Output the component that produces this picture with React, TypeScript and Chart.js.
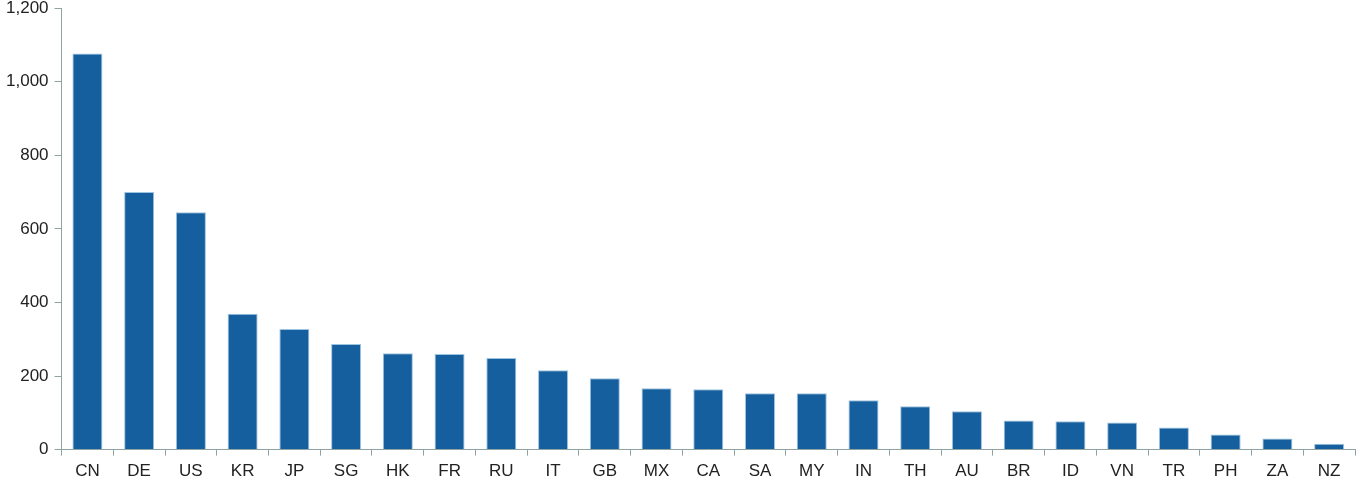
import React, { useEffect, useRef } from "react";
import { Chart, registerables } from "chart.js";

Chart.register(...registerables);

const categories = ["CN","DE","US","KR","JP","SG","HK","FR","RU","IT","GB","MX","CA","SA","MY","IN","TH","AU","BR","ID","VN","TR","PH","ZA","NZ"];
const values = [1077,700,645,369,328,287,262,260,249,216,194,167,164,153,153,134,118,104,79,77,74,60,41,30,16];
const yTicks = [0,200,400,600,800,1000,1200];

const FONT = "'Liberation Sans Narrow', 'Arial Narrow', 'Liberation Sans', Arial, sans-serif";

export default function App() {
  const ref = useRef<HTMLCanvasElement | null>(null);
  useEffect(() => {
    document.body.style.margin = "0";
    document.body.style.overflow = "hidden";
    const chart = new Chart(ref.current!, {
      type: "bar",
      data: {
        labels: categories,
        datasets: [{
          data: values,
          backgroundColor: "#155F9E",
          borderColor: "#9cc3df",
          borderWidth: 1,
          categoryPercentage: 1,
          barPercentage: 0.58,
        }],
      },
      options: {
        responsive: false,
        animation: false,
        maintainAspectRatio: false,
        layout: { padding: { top: 2, right: 3, left: 0, bottom: 0 } },
        plugins: { legend: { display: false }, tooltip: { enabled: false } },
        scales: {
          x: {
            grid: { drawOnChartArea: false, drawTicks: true, tickLength: 6, color: "#8fa3a3", offset: true },
            border: { color: "#8fa3a3", width: 1 },
            ticks: { color: "#222", font: { family: FONT, size: 17 }, padding: 6 },
          },
          y: {
            min: 0, max: 1200,
            afterBuildTicks: (axis: any) => { axis.ticks = yTicks.map((v) => ({ value: v })); },
            grid: { drawOnChartArea: false, drawTicks: true, tickLength: 7, color: "#8fa3a3" },
            border: { color: "#8fa3a3", width: 1 },
            ticks: {
              color: "#222",
              font: { family: FONT, size: 17 },
              padding: 6,
              callback: (v: any) => Number(v).toLocaleString("en-US"),
            },
          },
        },
      },
    });
    return () => chart.destroy();
  }, []);
  return (
    <div style={{ position: "absolute", left: 0, top: -8, width: 1358, height: 496, overflow: "hidden" }}>
      <canvas ref={ref} width={1358} height={496} style={{ display: "block" }} />
    </div>
  );
}
